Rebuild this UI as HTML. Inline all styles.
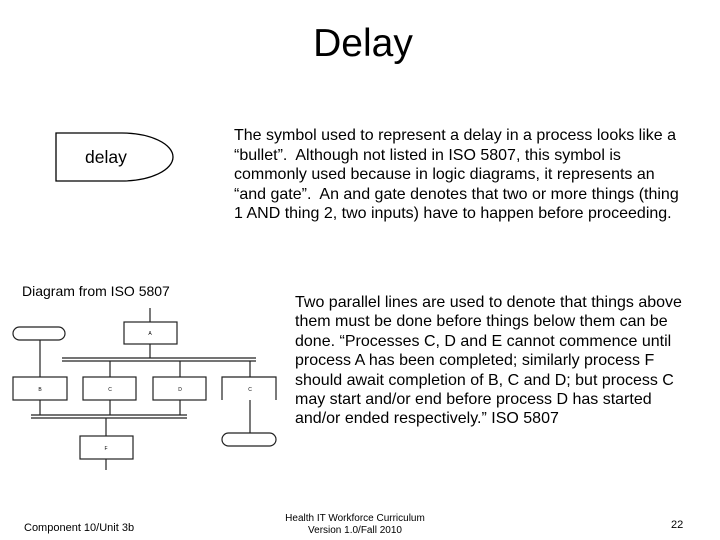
<!DOCTYPE html>
<html><head><style>
body{margin:0;width:720px;height:540px;background:#fff;position:relative;font-family:"Liberation Sans",sans-serif;color:#000;overflow:hidden}
.t{position:absolute;white-space:nowrap}
.p{position:absolute;font-size:16px;line-height:19.6px;white-space:nowrap}
</style></head><body>
<div class="t" style="left:0;width:726px;text-align:center;top:22px;font-size:39px">Delay</div>
<svg width="720" height="540" style="position:absolute;left:0;top:0" fill="none" stroke="#000">
<path d="M56,133 H122 A51,24 0 0 1 122,181 H56 Z" stroke-width="1.3"/>
<g stroke-width="1.2" stroke="#222">
<line x1="150" y1="308" x2="150" y2="322"/>
<rect x="124" y="322" width="53" height="22"/>
<line x1="150" y1="344" x2="150" y2="358"/>
<line x1="62" y1="358" x2="256" y2="358"/><line x1="62" y1="361" x2="256" y2="361"/>
<rect x="13" y="327" width="52" height="13" rx="6.5"/>
<line x1="40" y1="340" x2="40" y2="377"/>
<rect x="13" y="377" width="54" height="23"/>
<rect x="83" y="377" width="53" height="23"/>
<rect x="153" y="377" width="53" height="23"/>
<path d="M222,400 V377 H276 V400"/>
<line x1="110" y1="361" x2="110" y2="377"/>
<line x1="180" y1="361" x2="180" y2="377"/>
<line x1="250" y1="361" x2="250" y2="377"/>
<line x1="31" y1="415" x2="187" y2="415"/><line x1="31" y1="418" x2="187" y2="418"/>
<line x1="40" y1="400" x2="40" y2="415"/>
<line x1="110" y1="400" x2="110" y2="415"/>
<line x1="180" y1="400" x2="180" y2="415"/>
<line x1="106" y1="418" x2="106" y2="436"/>
<rect x="80" y="436" width="53" height="23"/>
<line x1="106" y1="459" x2="106" y2="470"/>
<line x1="250" y1="400" x2="250" y2="433"/>
<rect x="222" y="433" width="54" height="13" rx="6.5"/>
</g>
<g fill="#000" stroke="none" font-size="5" font-family="Liberation Sans" text-anchor="middle">
<text x="150" y="335">A</text><text x="40" y="391">B</text><text x="110" y="391">C</text><text x="180" y="391">D</text><text x="250" y="391">C</text><text x="106" y="450">F</text>
</g>
</svg>
<div class="t" style="left:85px;top:147px;font-size:17.5px">delay</div>
<div class="t" style="left:22px;top:283px;font-size:14px">Diagram from ISO 5807</div>
<div class="p" style="left:234px;top:126px">The symbol used to represent a delay in a process looks like a<br>“bullet”.&nbsp; Although not listed in ISO 5807, this symbol is<br>commonly used because in logic diagrams, it represents an<br>“and gate”.&nbsp; An and gate denotes that two or more things (thing<br>1 AND thing 2, two inputs) have to happen before proceeding.</div>
<div class="p" style="left:295px;top:293px;line-height:19.4px">Two parallel lines are used to denote that things above<br>them must be done before things below them can be<br>done. “Processes C, D and E cannot commence until<br>process A has been completed; similarly process F<br>should await completion of B, C and D; but process C<br>may start and/or end before process D has started<br>and/or ended respectively.” ISO 5807</div>
<div class="t" style="left:24px;top:522px;font-size:11px">Component 10/Unit 3b</div>
<div class="t" style="left:255px;width:200px;text-align:center;top:513px;font-size:10px;line-height:12px">Health IT Workforce Curriculum<br>Version 1.0/Fall 2010</div>
<div class="t" style="left:671px;top:519px;font-size:11px">22</div>
</body></html>
